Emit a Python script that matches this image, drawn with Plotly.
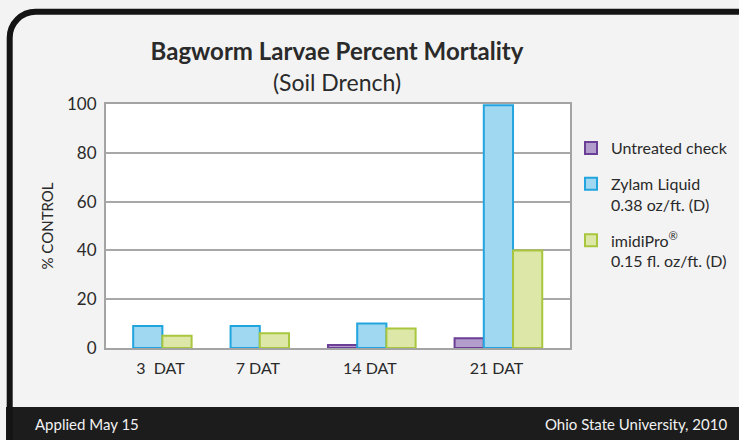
import plotly.graph_objects as go

# ---- data ----
categories = ["3  DAT", "7 DAT", "14 DAT", "21 DAT"]
series_names = ["Untreated check", "Zylam Liquid<br>0.38 oz/ft. (D)", "imidiPro<sup>®</sup><br>0.15 fl. oz/ft. (D)"]
untreated = [0, 0, 1.2, 4]
zylam = [9, 9, 10, 99.5]
imidipro = [5, 6, 8, 40]
y_ticks = [0, 20, 40, 60, 80, 100]

# ---- layout / positions (not data) ----
W, H = 739, 440
PL, PR, PT, PB = 106, 570, 104, 348  # plot area in px
group_pos = [0, 1, 2.3, 3.6]          # uneven group spacing as in the original
label_pos = [0.13, 1.13, 2.28, 3.58]
x_range = [-0.429, 4.335]

fills = ["#b29dcc", "#a0d7f1", "#dde7a7"]
edges = ["#6b3f95", "#22a5df", "#a9c63f"]
FONT = "Lato, 'Open Sans', sans-serif"

def px(xp):
    return (xp - PL) / (PR - PL)

def py(yp):
    return (PB - yp) / (PB - PT)

fig = go.Figure()
for i, (name, vals) in enumerate(zip(series_names, [untreated, zylam, imidipro])):
    fig.add_trace(go.Bar(
        x=group_pos, y=[v if v else None for v in vals], name=name,
        marker=dict(color=fills[i], line=dict(color=edges[i], width=2)),
        legendgroup=f"g{i}",
    ))

# frame (rounded dark border) and footer band
r = 26
x0, y0 = 9.7, 11.7
x1 = 760
k = 0.5523 * r
path = (f"M {px(x0)},{py(445)} L {px(x0)},{py(y0 + r)} "
        f"C {px(x0)},{py(y0 + r - k)} {px(x0 + r - k)},{py(y0)} {px(x0 + r)},{py(y0)} "
        f"L {px(x1)},{py(y0)}")
shapes = [
    dict(type="rect", xref="paper", yref="paper", x0=px(6), x1=px(760), y0=py(407), y1=py(445),
         fillcolor="#1c1c1c", line=dict(width=0), layer="below"),
    dict(type="path", xref="paper", yref="paper", path=path,
         line=dict(color="#141414", width=6), layer="above"),
]

annotations = [
    dict(text="Applied May 15", xref="paper", yref="paper", x=px(33), y=py(424),
         xanchor="left", yanchor="middle", showarrow=False,
         font=dict(family=FONT, size=15, color="#f2f2f2")),
    dict(text="Ohio State University, 2010", xref="paper", yref="paper", x=px(729), y=py(424),
         xanchor="right", yanchor="middle", showarrow=False,
         font=dict(family=FONT, size=15, color="#f2f2f2")),
]

fig.update_layout(
    width=W, height=H,
    margin=dict(l=PL, r=W - PR, t=PT, b=H - PB, autoexpand=False),
    paper_bgcolor="#f3f3f3", plot_bgcolor="#ffffff",
    barmode="group", bargap=0.1, bargroupgap=0,
    font=dict(family=FONT, color="#2a2a2a"),
    title=dict(text="<b>Bagworm Larvae Percent Mortality</b><br><span style='font-size:23px'>(Soil Drench)</span>",
               x=px(337), xanchor="center", xref="paper",
               y=1 - 60 / H, yref="container", yanchor="top",
               font=dict(family=FONT, size=24, color="#2a2a2a")),
    xaxis=dict(range=x_range, tickvals=label_pos, ticktext=categories,
               showgrid=False, zeroline=False, showline=True, mirror=True,
               linecolor="#a4a4a4", linewidth=2, ticks="outside", ticklen=5,
               tickcolor="rgba(0,0,0,0)", tickfont=dict(size=16, color="#2a2a2a")),
    yaxis=dict(range=[0, 100], tickvals=y_ticks, showgrid=True, gridcolor="#a8a8a8", gridwidth=1.5,
               zeroline=False, showline=True, mirror=True, linecolor="#a4a4a4", linewidth=2,
               ticks="outside", ticklen=4, tickcolor="rgba(0,0,0,0)",
               tickfont=dict(size=17, color="#2a2a2a"),
               title=dict(text="% CONTROL", font=dict(size=15, color="#2a2a2a"), standoff=10)),
    legend=dict(x=px(571), y=py(131), xanchor="left", yanchor="top", xref="paper", yref="paper",
                traceorder="grouped", tracegroupgap=12, valign="top",
                font=dict(size=16, color="#2a2a2a"), bgcolor="rgba(0,0,0,0)"),
    shapes=shapes, annotations=annotations,
)

fig.write_html("out.html", config={"displayModeBar": False},
               post_script="document.body.style.margin='0px';document.body.style.overflow='hidden';")
